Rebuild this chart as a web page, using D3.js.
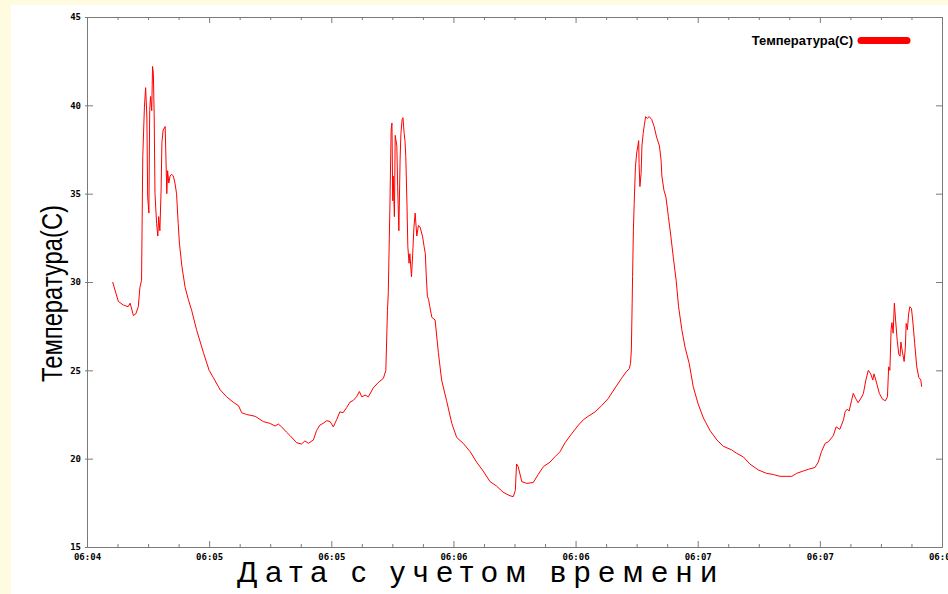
<!DOCTYPE html>
<html>
<head>
<meta charset="utf-8">
<script src="https://cdn.jsdelivr.net/npm/d3@7/dist/d3.min.js"></script>
<style>
  html, body { margin: 0; padding: 0; background: #fffbe1; }
  svg { display: block; }
</style>
</head>
<body>
<svg id="chart" width="948" height="594"></svg>
<script>
// ---- data (seconds from first tick, temperature °C) ----
const seconds = [
  6.3,7.7,8.9,10.1,10.6,11.4,12.0,12.6,13.0,13.4,13.7,14.1,14.4,14.7,14.9,15.2,15.4,15.6,15.9,16.1,
  16.3,16.5,16.7,17.1,17.4,17.6,17.9,18.2,18.4,18.7,19.2,19.4,19.6,19.8,20.1,20.4,20.8,21.2,21.6,22.0,
  22.4,22.7,23.3,24.1,24.9,25.7,26.9,28.6,30.0,31.0,32.7,34.3,35.9,37.2,38.0,39.2,41.3,43.3,44.9,46.2,
  47.0,47.8,49.0,49.9,51.5,52.7,53.5,54.4,55.6,56.4,57.2,58.0,58.9,59.7,60.5,61.3,62.1,62.9,63.8,64.6,
  65.4,66.2,66.9,67.5,68.3,69.1,70.3,71.5,72.8,73.4,73.8,74.0,74.4,74.7,74.9,75.1,75.2,75.5,75.7,76.1,
  76.3,76.6,76.9,77.1,77.4,77.6,77.9,78.1,78.3,78.6,78.8,79.1,79.3,79.7,80.0,80.3,80.6,81.0,81.4,81.8,
  82.4,82.8,83.1,83.3,83.6,83.9,84.2,84.7,85.5,86.3,87.1,88.3,89.6,90.8,92.4,94.1,95.7,97.3,99.0,100.6,
  102.2,103.9,104.7,105.2,105.5,105.9,106.8,108.0,109.6,110.8,112.1,113.7,114.9,116.2,117.4,119.0,120.7,121.9,123.1,124.8,
  126.4,128.0,129.7,131.3,132.4,133.2,133.5,133.7,133.9,134.0,134.2,134.4,134.7,135.0,135.3,135.5,135.6,135.8,136.1,136.3,
  136.6,136.9,137.2,137.6,138.1,138.7,139.3,139.9,140.6,141.0,141.2,141.7,142.2,142.8,143.4,144.0,144.7,145.3,146.1,146.9,
  147.9,148.9,150.1,151.4,153.0,154.7,156.3,158.3,159.6,161.2,162.8,164.9,166.9,168.6,170.2,171.9,173.1,174.3,175.9,177.2,
  178.8,179.6,180.4,181.3,182.1,183.3,184.0,184.9,185.8,186.2,186.7,187.2,187.8,188.2,188.8,189.4,190.3,190.7,191.3,191.9,
  192.5,193.0,193.3,193.8,194.6,195.4,196.1,196.6,196.9,197.2,197.5,197.7,198.0,198.3,198.6,199.0,199.4,199.7,199.9,200.2,
  200.7,201.0,201.2,201.5,201.8,202.1,202.5,202.8,203.3,203.8,204.3,204.8,205.0
];
const temperatures = [
  30.0,28.9,28.7,28.6,28.8,28.1,28.2,28.6,29.7,30.1,37.1,39.9,41.0,39.4,34.8,33.9,39.7,40.5,39.7,42.2,
  41.8,39.4,35.0,33.3,32.6,33.7,32.9,35.2,37.9,38.6,38.8,36.9,35.0,36.3,35.6,36.0,36.1,36.0,35.6,35.0,
  33.3,32.2,30.9,29.7,29.0,28.4,27.3,26.0,25.0,24.6,23.9,23.5,23.2,23.0,22.6,22.5,22.4,22.1,22.0,21.85,
  21.96,21.8,21.5,21.3,20.9,20.83,21.0,20.87,21.06,21.6,21.9,22.0,22.15,22.1,21.8,22.2,22.65,22.6,22.9,23.2,
  23.3,23.5,23.8,23.5,23.6,23.5,24.0,24.3,24.55,25.0,28.4,29.4,34.3,38.6,39.0,34.6,36.0,33.7,38.3,37.7,
  35.4,32.9,36.9,38.4,39.2,39.3,38.4,38.0,37.1,34.3,32.0,31.06,31.6,30.3,31.6,33.1,33.9,32.6,33.2,33.1,
  32.6,32.0,31.6,30.5,29.2,29.0,28.6,28.0,27.85,26.0,24.45,23.3,22.0,21.2,20.87,20.4,19.8,19.3,18.7,18.45,
  18.1,17.9,17.85,18.2,19.7,19.55,18.7,18.6,18.65,19.1,19.55,19.8,20.1,20.4,20.9,21.4,21.9,22.2,22.4,22.65,
  23.0,23.4,24.0,24.55,24.9,25.1,25.4,26.15,28.8,30.3,32.9,34.45,36.5,37.3,37.7,38.0,36.7,35.4,36.15,37.7,
  38.4,38.9,39.36,39.26,39.36,39.2,38.8,38.2,37.7,36.9,36.0,35.2,34.8,33.7,32.6,31.4,30.1,28.6,27.3,26.3,
  25.4,24.07,23.1,22.3,21.6,21.06,20.7,20.5,20.3,20.1,19.7,19.36,19.17,19.1,19.0,19.0,19.0,19.17,19.3,19.4,
  19.5,19.8,20.4,20.87,20.96,21.3,21.8,21.66,22.2,22.65,22.8,22.7,23.3,23.7,23.4,23.17,23.5,23.7,24.45,25.0,
  24.8,24.45,24.8,24.4,23.7,23.36,23.28,23.5,25.2,25.0,27.3,27.7,27.1,28.8,27.85,26.7,25.9,25.8,26.6,26.15,
  25.5,26.3,27.65,27.3,28.2,28.6,28.5,27.85,26.5,25.2,24.6,24.45,24.07,23.7
];
const xTickValues = [0, 30, 60, 90, 120, 150, 180, 210];
const xTickLabels = ["06:04", "06:05", "06:05", "06:06", "06:06", "06:07", "06:07", "06:08"];
const yTickValues = [15, 20, 25, 30, 35, 40, 45];
const seriesName = "Температура(C)";
const yTitle = "Температура(C)";
const xTitle = "Дата с учетом времени";

// ---- layout ----
const W = 948, H = 594;
const plot = { left: 87, right: 942, top: 17, bottom: 547 };
const svg = d3.select("#chart");

svg.append("rect").attr("x", 0).attr("y", 0).attr("width", W).attr("height", H).attr("fill", "#fffbe1");
svg.append("rect").attr("x", 11).attr("y", 5).attr("width", W - 11).attr("height", H - 5).attr("fill", "#ffffff");

const x = d3.scaleLinear().domain([0, 210]).range([plot.left, plot.right]);
const y = d3.scaleLinear().domain([15, 45]).range([plot.bottom, plot.top]);

const minorX = d3.range(0, 211, 7.5).filter(v => v % 30 !== 0);
const axisColor = "#7a7a7a";
const tickFont = "bold 9px 'DejaVu Sans Mono', monospace";

function styleAxis(g) {
  g.selectAll(".domain").attr("stroke", axisColor).attr("stroke-width", 1);
  g.selectAll(".tick line").attr("stroke", axisColor).attr("stroke-width", 1);
  g.selectAll(".tick text").attr("fill", "#000").style("font", tickFont);
}
function noLabels(g) {
  g.selectAll(".tick text").remove();
}

// bottom axis (major + minor)
svg.append("g").attr("transform", `translate(0,${plot.bottom})`)
  .call(d3.axisBottom(x).tickValues(xTickValues).tickSizeInner(-6).tickSizeOuter(0).tickPadding(7)
        .tickFormat((d, i) => xTickLabels[i]))
  .call(styleAxis);
svg.append("g").attr("transform", `translate(0,${plot.bottom})`)
  .call(d3.axisBottom(x).tickValues(minorX).tickSizeInner(-3).tickSizeOuter(0))
  .call(styleAxis).call(noLabels);

// top axis (mirror)
svg.append("g").attr("transform", `translate(0,${plot.top})`)
  .call(d3.axisTop(x).tickValues(xTickValues).tickSizeInner(-6).tickSizeOuter(0))
  .call(styleAxis).call(noLabels);
svg.append("g").attr("transform", `translate(0,${plot.top})`)
  .call(d3.axisTop(x).tickValues(minorX).tickSizeInner(-3).tickSizeOuter(0))
  .call(styleAxis).call(noLabels);

// left axis
svg.append("g").attr("transform", `translate(${plot.left},0)`)
  .call(d3.axisLeft(y).tickValues(yTickValues).tickSizeInner(-6).tickSizeOuter(0).tickPadding(6))
  .call(styleAxis);
svg.append("g").attr("transform", `translate(${plot.left},0)`)
  .call(d3.axisLeft(y).tickValues(yTickValues).tickSizeInner(2).tickSizeOuter(0))
  .call(styleAxis).call(noLabels);

// right axis (mirror)
svg.append("g").attr("transform", `translate(${plot.right},0)`)
  .call(d3.axisRight(y).tickValues(yTickValues).tickSizeInner(-6).tickSizeOuter(0))
  .call(styleAxis).call(noLabels);

// line
const data = seconds.map((t, i) => ({ t, v: temperatures[i] }));
const line = d3.line().x(d => x(d.t)).y(d => y(d.v));
svg.append("path").datum(data)
  .attr("fill", "none").attr("stroke", "#ff0000").attr("stroke-width", 1)
  .attr("stroke-linejoin", "round").attr("d", line);

// legend
svg.append("text").attr("x", 853).attr("y", 45).attr("text-anchor", "end")
  .style("font", "bold 13px 'Liberation Sans', Arial, sans-serif").attr("fill", "#000")
  .text(seriesName);
svg.append("line").attr("x1", 861).attr("x2", 907).attr("y1", 40.5).attr("y2", 40.5)
  .attr("stroke", "#ff0000").attr("stroke-width", 7).attr("stroke-linecap", "round");

// axis titles
svg.append("text")
  .attr("transform", "translate(62,382) rotate(-90)")
  .attr("textLength", 177).attr("lengthAdjust", "spacingAndGlyphs")
  .style("font", "30px 'Liberation Sans', Arial, sans-serif").attr("fill", "#000")
  .text(yTitle);
svg.append("text")
  .attr("x", 237).attr("y", 582)
  .attr("textLength", 480).attr("lengthAdjust", "spacing")
  .style("font", "30px 'Liberation Sans', Arial, sans-serif").attr("fill", "#000")
  .text(xTitle);
</script>
</body>
</html>
